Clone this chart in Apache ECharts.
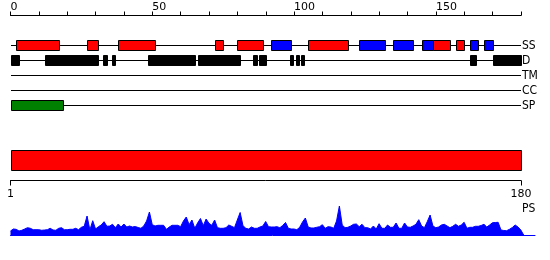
<!DOCTYPE html>
<html><head><meta charset="utf-8">
<script src="https://cdn.jsdelivr.net/npm/echarts@6/dist/echarts.min.js"></script>
<style>html,body{margin:0;padding:0;background:#fff}#c{width:550px;height:260px}</style>
</head><body><div id="c"></div>
<script>
// ---- data ----
const tracks = ['SS', 'D', 'TM', 'CC', 'SP'];
const seqStart = 0;
const seqLength = 180;
const topTickLabels = [0, 50, 100, 150];
const bottomTickLabels = [1, 180];
const ssHelix = [[2, 17], [27, 31], [38, 51], [72, 75], [80, 89], [105, 119], [149, 155], [157, 160]];
const ssStrand = [[92, 99], [123, 132], [135, 142], [145, 149], [162, 165], [167, 170]];
const disorder = [[0, 3], [12, 31], [32.6, 34], [35.8, 36.8], [48.5, 65], [66, 81], [85.6, 87], [87.7, 90],
  [98.7, 99.6], [100.7, 101.8], [102.6, 103.6], [162, 164], [170, 180]];
const transmembrane = [];
const coiledCoil = [];
const signalPeptide = [[0, 18.6]];
const domainBar = [[1, 180]];
const psValues = [
  4, 6, 5.7, 4, 4.7, 6, 7.3, 6.7, 5.3, 5.3,
  5.3, 4.7, 5, 5.3, 6.7, 5, 4.7, 6.7, 7.3, 5.3,
  5.3, 5.7, 5.7, 6.7, 5.3, 7.7, 8.7, 19, 5, 14.3,
  6, 8.3, 10, 13.3, 8.7, 9, 10.7, 7.3, 11, 8,
  11, 8, 9, 8, 8.5, 7.5, 6.7, 9, 14, 23,
  10.3, 9, 9.7, 9.7, 9.7, 5.7, 8, 9.7, 9.7, 9.7,
  8.3, 14, 18, 10.3, 15, 6.7, 12, 16.5, 9.3, 16,
  11.7, 9.7, 15, 7.3, 6.7, 6.7, 7.3, 10, 8.7, 7.3,
  15, 22.5, 9.3, 6.7, 6, 8, 6.7, 6.7, 8, 9,
  13.5, 8.3, 8, 8, 8.3, 7.3, 9.5, 12.5, 6.7, 6,
  6, 5.3, 7.7, 13, 17, 8, 7, 7, 7.7, 8.3,
  10.3, 6.7, 8.3, 8, 6.7, 14, 29, 10, 7.3, 7.7,
  9, 10.7, 11, 8.3, 10.7, 7.3, 7.3, 6, 9, 6,
  11.3, 6.7, 6.7, 10, 7.7, 7.7, 12, 6.7, 6.7, 12,
  8, 7.7, 9, 10.7, 15.3, 9, 7.3, 13.3, 20, 9,
  7.3, 8, 10, 10.7, 9, 7.3, 8.7, 10.7, 8.7, 10,
  12.7, 6.7, 7.7, 7.7, 8.7, 8.7, 9.5, 10.7, 8, 10,
  12.3, 12.5, 12.7, 5, 4.5, 4.3, 5.7, 7.5, 10, 8,
  5, 0
];

// ---- build ----
const colors = { H: '#ff0000', E: '#0000ff', D: '#000000', SP: '#008000' };
const boxes = [];
ssHelix.forEach(r => boxes.push([r[0], r[1], 0, 'H']));
ssStrand.forEach(r => boxes.push([r[0], r[1], 0, 'E']));
disorder.forEach(r => boxes.push([r[0], r[1], 1, 'D']));
transmembrane.forEach(r => boxes.push([r[0], r[1], 2, 'D']));
coiledCoil.forEach(r => boxes.push([r[0], r[1], 3, 'D']));
signalPeptide.forEach(r => boxes.push([r[0], r[1], 4, 'SP']));
const trackLines = tracks.map((t, i) => [seqStart, seqLength, i]);

const numFont = 'DejaVu Sans';
const lblFont = 'DejaVu Sans Condensed, DejaVu Sans';

function px(v) { return Math.round(v) + 0.5; }

const chart = echarts.init(document.getElementById('c'), null, { renderer: 'canvas' });
chart.setOption({
  animation: false,
  backgroundColor: '#fff',
  title: { text: 'PS', left: 522, top: 203, padding: 0,
    textStyle: { fontSize: 12, fontWeight: 'normal', color: '#000', fontFamily: lblFont } },
  grid: [
    { left: 10.5, right: 29, top: 38, height: 75 },
    { left: 10.5, right: 29, top: 150, height: 30.5 },
    { left: 10.5, right: 15, top: 205, height: 30 }
  ],
  xAxis: [
    { gridIndex: 0, type: 'value', min: 0, max: seqLength, interval: 10, position: 'top', offset: 22.5,
      axisLine: { show: true, onZero: false, lineStyle: { color: '#000', width: 1 } },
      axisTick: { show: true, length: 4, lineStyle: { color: '#000' } },
      splitLine: { show: false },
      axisLabel: { customValues: topTickLabels, align: 'left', margin: 3, fontSize: 11, color: '#000', fontFamily: numFont } },
    { gridIndex: 1, type: 'value', min: 1, max: seqLength, position: 'bottom',
      axisLine: { show: true, onZero: false, lineStyle: { color: '#000', width: 1 } },
      axisTick: { show: true, customValues: bottomTickLabels, length: 5, lineStyle: { color: '#000' } },
      splitLine: { show: false },
      axisLabel: { customValues: bottomTickLabels, margin: 8, fontSize: 11, color: '#000', fontFamily: numFont } },
    { gridIndex: 2, type: 'value', min: 0, max: 185,
      axisLine: { show: true, onZero: false, lineStyle: { color: '#0000ff', width: 1 } },
      axisTick: { show: false }, axisLabel: { show: false }, splitLine: { show: false } }
  ],
  yAxis: [
    { gridIndex: 0, type: 'category', data: tracks, inverse: true, position: 'right',
      axisLine: { show: false }, axisTick: { show: false }, splitLine: { show: false },
      axisLabel: { interval: 0, margin: 1, fontSize: 12, color: '#000', fontFamily: lblFont } },
    { gridIndex: 1, type: 'value', min: 0, max: 1, show: false },
    { gridIndex: 2, type: 'value', min: 0, max: 30, show: false }
  ],
  series: [
    { type: 'custom', xAxisIndex: 0, yAxisIndex: 0, data: trackLines, z: 1,
      renderItem: function (params, api) {
        const s = api.coord([api.value(0), api.value(2)]);
        const e = api.coord([api.value(1), api.value(2)]);
        const y = Math.floor(s[1]) + 0.5;
        return { type: 'line', shape: { x1: Math.round(s[0]), y1: y, x2: Math.round(e[0]), y2: y },
          style: { stroke: '#000', lineWidth: 1 } };
      } },
    { type: 'custom', xAxisIndex: 0, yAxisIndex: 0, data: boxes, z: 2,
      encode: { x: [0, 1], y: 2 },
      renderItem: function (params, api) {
        const s = api.coord([api.value(0), api.value(2)]);
        const e = api.coord([api.value(1), api.value(2)]);
        const x0 = px(s[0]), x1 = px(e[0]);
        const y0 = Math.floor(s[1]) + 0.5 - 5;
        return { type: 'rect', shape: { x: x0, y: y0, width: x1 - x0, height: 10 },
          style: { fill: colors[boxes[params.dataIndex][3]], stroke: '#000', lineWidth: 1 } };
      } },
    { type: 'custom', xAxisIndex: 1, yAxisIndex: 1, data: domainBar,
      renderItem: function (params, api) {
        const s = api.coord([api.value(0), 1]);
        const e = api.coord([api.value(1), 1]);
        const x0 = px(s[0]), x1 = px(e[0]);
        const y0 = Math.round(params.coordSys.y) + 0.5;
        return { type: 'rect', shape: { x: x0, y: y0, width: x1 - x0, height: 20 },
          style: { fill: '#ff0000', stroke: '#000', lineWidth: 1 } };
      } },
    { type: 'line', xAxisIndex: 2, yAxisIndex: 2, data: psValues.map((v, i) => [i, v]),
      symbol: 'none', smooth: false,
      lineStyle: { color: '#0000ff', width: 1 },
      areaStyle: { color: '#0000ff', opacity: 1 } }
  ]
});
</script>
</body></html>
